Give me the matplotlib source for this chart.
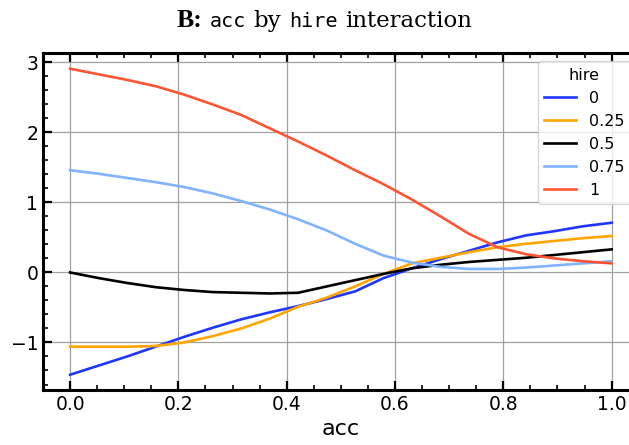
import matplotlib
matplotlib.use("Agg")
import matplotlib.pyplot as plt
from matplotlib.ticker import MultipleLocator

# acc grid (20 evenly spaced points on [0, 1])
acc = [i / 19 for i in range(20)]

hire_levels = ["0", "0.25", "0.5", "0.75", "1"]

pred_hire_0 = [-1.46, -1.33, -1.20, -1.06, -0.92, -0.79, -0.67, -0.57, -0.48, -0.38,
               -0.27, -0.08, 0.06, 0.19, 0.31, 0.43, 0.53, 0.59, 0.66, 0.71]
pred_hire_025 = [-1.06, -1.06, -1.06, -1.05, -1.00, -0.91, -0.80, -0.66, -0.49, -0.36,
                 -0.20, -0.02, 0.13, 0.21, 0.29, 0.36, 0.41, 0.45, 0.49, 0.52]
pred_hire_05 = [0.00, -0.08, -0.15, -0.21, -0.25, -0.28, -0.29, -0.30, -0.29, -0.20,
                -0.11, -0.02, 0.06, 0.11, 0.15, 0.18, 0.21, 0.25, 0.29, 0.33]
pred_hire_075 = [1.46, 1.41, 1.35, 1.29, 1.22, 1.13, 1.02, 0.90, 0.76, 0.60,
                 0.41, 0.24, 0.14, 0.08, 0.05, 0.05, 0.07, 0.10, 0.13, 0.16]
pred_hire_1 = [2.91, 2.83, 2.75, 2.66, 2.54, 2.40, 2.25, 2.06, 1.87, 1.67,
               1.46, 1.26, 1.04, 0.80, 0.55, 0.36, 0.26, 0.20, 0.16, 0.13]

series = [pred_hire_0, pred_hire_025, pred_hire_05, pred_hire_075, pred_hire_1]
colors = ["#1f36ff", "#ffa500", "#000000", "#80b4ff", "#ff5533"]

# title pieces: (text, family, weight, size)
title_parts = [
    ("B:", "Liberation Serif", "bold", 18.5),
    ("acc", "DejaVu Sans Mono", "normal", 14.5),
    ("by", "DejaVu Serif", "light", 16.5),
    ("hire", "DejaVu Sans Mono", "normal", 14.5),
    ("interaction", "DejaVu Serif", "light", 16.5),
]

fig = plt.figure(figsize=(6.29, 4.45), dpi=100)
ax = fig.add_axes([0.0684, 0.1236, 0.947, 0.7564])

for vals, col, lab in zip(series, colors, hire_levels):
    ax.plot(acc, vals, color=col, lw=1.9, label=lab, zorder=3)

ax.xaxis.set_major_locator(MultipleLocator(0.2))
ax.xaxis.set_minor_locator(MultipleLocator(0.05))
ax.yaxis.set_major_locator(MultipleLocator(1))
ax.yaxis.set_minor_locator(MultipleLocator(0.2))
ax.tick_params(which="both", direction="in", top=True, right=True, labelsize=13.5)
ax.tick_params(which="major", length=6.5, width=1.6)
ax.tick_params(which="minor", length=3.5, width=1.2)
for s in ax.spines.values():
    s.set_linewidth(2.2)
ax.grid(True, which="major", color="#a0a0a0", lw=0.9, zorder=0)
ax.set_axisbelow(True)

ax.set_xlabel("acc", fontsize=16)

leg = ax.legend(title="hire", loc="upper right", fontsize=11.5, title_fontsize=11.5,
                frameon=True, fancybox=True)

# lay out the mixed-font title word by word, centred slightly right of the figure middle
renderer = fig.canvas.get_renderer()
gap = 7.5
base_y = 445 - 27.0
centre_x = 324.0
texts = []
widths = []
for txt, fam, wt, sz in title_parts:
    t = fig.text(0, 0, txt, family=fam, weight=wt, fontsize=sz,
                 ha="left", va="baseline", transform=None)
    texts.append(t)
    widths.append(t.get_window_extent(renderer).width)
total = sum(widths) + gap * (len(widths) - 1)
x = centre_x - total / 2
for t, w in zip(texts, widths):
    t.set_position((x, base_y))
    x += w + gap

fig.savefig("out.png", dpi=100)
